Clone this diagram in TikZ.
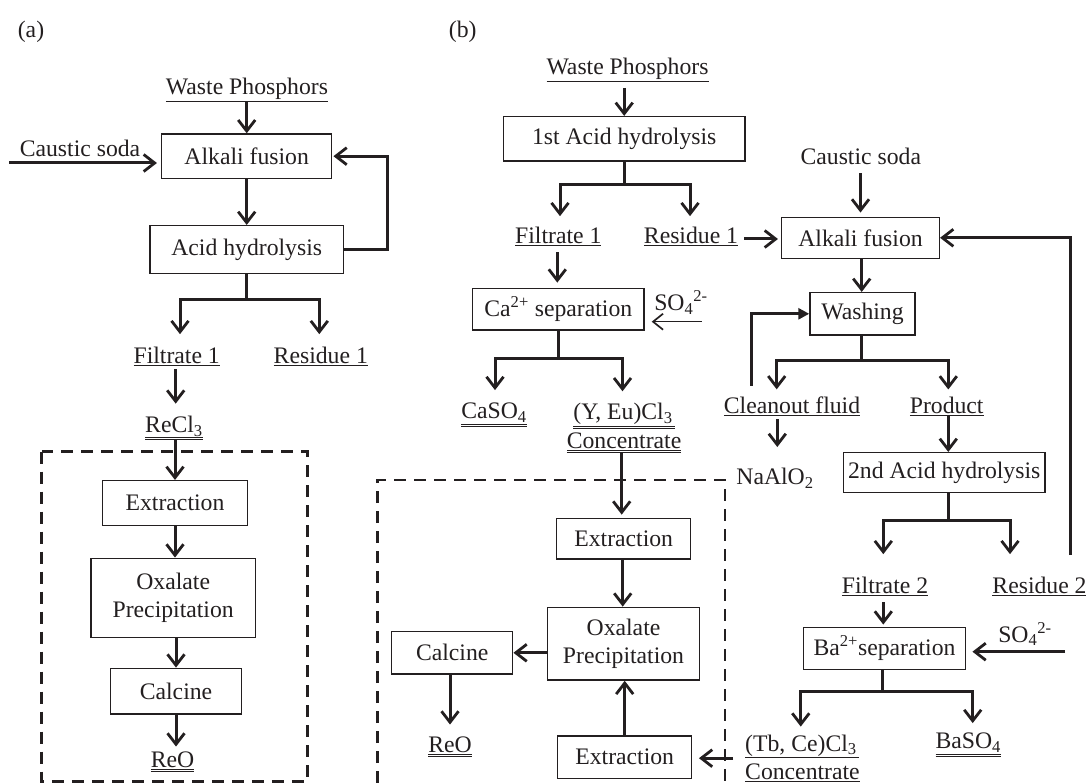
\documentclass[tikz,border=0pt]{standalone}
\usepackage{fontspec}
\setmainfont{Liberation Serif}
\usetikzlibrary{arrows.meta}
\definecolor{ink}{HTML}{231F20}
\newcommand{\ulA}[1]{$\underline{\hbox{#1}}$}
\newcommand{\ulB}[1]{$\underline{\underline{\hbox{#1}}}$}
\begin{document}
\begin{tikzpicture}[x=1pt,y=-1pt,
  every node/.style={text=ink, font=\fontsize{23.7}{28.4}\selectfont},
  box/.style={draw=ink, line width=1.5pt, inner sep=0, align=center},
  lbl/.style={inner sep=0, align=center},
  con/.style={draw=ink, line width=3pt},
  arr/.style={con, -{Straight Barb[length=11pt,width=17pt,line width=2.8pt]}},
  tarr/.style={draw=ink, line width=1.4pt, -{Straight Barb[length=10pt,width=16pt,line width=1.7pt]}},
  farr/.style={con, -{Triangle[length=11pt,width=11pt]}},
  dbox/.style={draw=ink, line width=2.8pt, dash pattern=on 12pt off 8pt}]
\useasboundingbox (0,0) rectangle (1086,783);
% ---------------- (a) ----------------
\node[lbl] (la) at (31,32) {(a)};
\node[lbl] (wpA) at (247,90) {\ulA{Waste Phosphors}};
\node[box, minimum width=170, minimum height=44.3] (afA) at (246.7,156.2) {Alkali fusion};
\node[lbl] (csA) at (80,148) {Caustic soda};
\node[box, minimum width=193.3, minimum height=47.6] (ahA) at (246.7,249.5) {Acid hydrolysis};
\node[lbl] (f1A) at (176.7,356.7) {\ulA{Filtrate 1}};
\node[lbl] (r1A) at (320.8,356.7) {\ulA{Residue 1}};
\node[lbl] (reA) at (174,428) {\ulB{ReCl\textsubscript{3}}};
\node[box, minimum width=144.6, minimum height=44.6] (exA) at (175,503) {Extraction};
\node[box, minimum width=164.3, minimum height=79] (oxA) at (173.2,597.8) {Oxalate\\Precipitation};
\node[box, minimum width=130.6, minimum height=45.7] (caA) at (176,691.2) {Calcine};
\node[lbl] (reoA) at (172.5,761.7) {\ulB{ReO}};
\draw[dbox] (41.7,451.7) rectangle (307.3,781.5);

\draw[arr] (afA.north |- wpA.south) -- (afA.north);
\coordinate (csAs) at (9,163);
\draw[arr, shorten >=4pt] (csAs) -- (csAs -| afA.west);
\draw[arr] (afA.south) -- (ahA.north);
\draw[arr, shorten >=1pt] (ahA.east) -- ++(43,0) |- (afA.east);
\draw[con] (ahA.south) -- ++(0,25) coordinate (sA);
\draw[arr, shorten >=13pt] (sA) -| ([xshift=3.3pt]f1A.north);
\draw[arr, shorten >=13pt] (sA) -| ([xshift=-1.5pt]r1A.north);
\draw[arr, shorten <=3pt, shorten >=12pt] ([xshift=-1pt]f1A.south) -- ([xshift=-1pt]f1A.south |- reA.north);
\draw[arr] (exA.north |- reA.south) -- (exA.north);
\draw[arr] (exA.south) -- (exA.south |- oxA.north);
\draw[arr] (caA.north |- oxA.south) -- (caA.north);
\draw[arr, shorten >=5pt] (caA.south) -- (caA.south |- reoA.north);

% ---------------- (b) ----------------
\node[lbl] (lb) at (462.7,32) {(b)};
\node[lbl] (wpB) at (627.5,70) {\ulA{Waste Phosphors}};
\node[box, minimum width=241.7, minimum height=44.3] (ah1B) at (624.2,138.8) {1st Acid hydrolysis};
\node[lbl] (f1B) at (558.3,236.7) {\ulA{Filtrate 1}};
\node[lbl] (r1B) at (691,236.7) {\ulA{Residue 1}};
\node[box, minimum width=171.3, minimum height=41.7] (caB) at (558.3,309.2) {Ca\textsuperscript{2+} separation};
\node[lbl] (so1) at (681,302.5) {SO\textsubscript{4}\textsuperscript{2-}};
\node[lbl] (caso) at (494,415) {\ulB{CaSO\textsubscript{4}}};
\node[lbl] (yeB) at (624,428) {\ulB{(Y, Eu)Cl\textsubscript{3}\kern2pt}\\\ulB{Concentrate}};
\node[box, minimum width=157.6, minimum height=41] (afB) at (860.5,237.8) {Alkali fusion};
\node[lbl] (csB) at (860.8,156.7) {Caustic soda};
\node[box, minimum width=105, minimum height=42.3] (waB) at (862.5,313.8) {Washing};
\node[lbl] (cfB) at (792,406) {\ulA{Cleanout fluid}};
\node[lbl] (prB) at (946.7,406) {\ulA{Product}};
\node[lbl] (naB) at (775,478.3) {NaAlO\textsubscript{2}};
\node[box, minimum width=201.7, minimum height=40] (ah2B) at (944.2,472.7) {2nd Acid hydrolysis};
\node[lbl] (f2B) at (885,586.7) {\ulA{Filtrate 2}};
\node[lbl] (r2B) at (1039.5,586.7) {\ulA{Residue 2}};
\node[box, minimum width=162.4, minimum height=42] (baB) at (884.5,648.3) {Ba\textsuperscript{2+}separation};
\node[lbl] (so2) at (1025,634) {SO\textsubscript{4}\textsuperscript{2-}};
\node[lbl, align=left, anchor=west] (tcB) at (745,758.3) {\ulA{(Tb, Ce)Cl\textsubscript{3}\kern2pt}\\\ulA{Concentrate}};
\node[lbl] (baso) at (968.3,745) {\ulB{BaSO\textsubscript{4}}};
\node[box, minimum width=134, minimum height=40.7] (exB1) at (623.7,538.7) {Extraction};
\node[box, minimum width=151.6, minimum height=72.7] (oxB) at (623.5,643.7) {Oxalate\\Precipitation};
\node[box, minimum width=121, minimum height=42.3] (calB) at (452.2,652.8) {Calcine};
\node[lbl] (reoB) at (450,746.7) {\ulB{ReO}};
\node[box, minimum width=134, minimum height=42.3] (exB2) at (624.7,757.2) {Extraction};
\draw[dbox] (377.3,783) -- (377.3,480) -- (725,480) -- (725,783);

\draw[arr, shorten <=6pt] (ah1B.north |- wpB.south) -- (ah1B.north);
\draw[con] (ah1B.south) -- ++(0,22.5) coordinate (sB1);
\draw[arr, shorten >=11pt] (sB1) -| ([xshift=1.7pt]f1B.north);
\draw[arr, shorten >=11pt] (sB1) -| ([xshift=-1pt]r1B.north);
\draw[arr, shorten <=6pt, shorten >=3pt] ([yshift=-2.3pt]r1B.east) -- ([yshift=-2.3pt]r1B.east -| afB.west);
\draw[arr, shorten <=6pt, shorten >=5pt] ([xshift=-1pt]f1B.south) -- ([xshift=-1pt]f1B.south |- caB.north);
\coordinate (so1s) at (701.7,321.7);
\draw[tarr, shorten >=7pt] (so1s) -- (so1s -| caB.east);
\draw[con] (caB.south) -- ++(0,28) coordinate (sB2);
\draw[arr, shorten >=13pt] (sB2) -| ([xshift=1pt]caso.north);
\draw[arr, shorten >=12pt] (sB2) -| ([xshift=-1.5pt]yeB.north);
\draw[arr, shorten >=3pt] ([xshift=-2pt]exB1.north |- yeB.south) -- ([xshift=-2pt]exB1.north);
\draw[arr] ([xshift=-1pt]exB1.south) -- ([xshift=-1pt]exB1.south |- oxB.north);
\draw[arr] (calB.east -| oxB.west) -- (calB.east);
\draw[arr, shorten >=12pt] ([xshift=-2.2pt]calB.south) -- ([xshift=-2.2pt]calB.south |- reoB.north);
\draw[arr] (exB2.north) -- (exB2.north |- oxB.south);
\draw[arr, shorten <=12pt, shorten >=6.5pt] ([yshift=-1pt]tcB.west |- exB2.east) -- ([yshift=-1pt]exB2.east);
\draw[arr, shorten <=8pt, shorten >=4pt] (afB.north |- csB.south) -- (afB.north);
\draw[arr] ([xshift=1.2pt]afB.south) -- ([xshift=1.2pt]afB.south |- waB.north);
\coordinate (r2t) at (1070,555);
\draw[arr] (r2t) |- (afB.east);
\draw[con] ([xshift=-0.8pt]waB.south) -- ++(0,24.3) coordinate (sB3);
\draw[arr, shorten >=7pt] (sB3) -| ([xshift=-15.3pt]cfB.north);
\draw[arr, shorten >=7pt] (sB3) -| ([xshift=1.6pt]prB.north);
\draw[farr, shorten <=10.5pt] ([xshift=-40.3pt]cfB.north) |- (waB.west);
\draw[arr, shorten <=3.5pt, shorten >=21pt] ([xshift=-14.7pt]cfB.south) -- ([xshift=-14.7pt]cfB.south |- naB.north);
\draw[arr] ([xshift=1.6pt]prB.south) -- ([xshift=1.6pt]prB.south |- ah2B.north);
\draw[con] ([xshift=4.1pt]ah2B.south) -- ++(0,27.3) coordinate (sB4);
\draw[arr, shorten >=23pt] (sB4) -| ([xshift=-1.7pt]f2B.north);
\draw[arr, shorten >=23pt] (sB4) -| ([xshift=-29.5pt]r2B.north);
\draw[arr, shorten <=6pt, shorten >=2pt] ([xshift=-1.7pt]f2B.south) -- ([xshift=-1.7pt]f2B.south |- baB.north);
\coordinate (so2s) at (1065,651.7);
\draw[arr, shorten >=6pt] (so2s) -- (so2s -| baB.east);
\draw[con] ([xshift=-1.8pt]baB.south) -- ++(0,21) coordinate (sB5);
\draw[arr, shorten >=8pt] (sB5) -| ([xshift=-1.7pt]tcB.north);
\draw[arr, shorten >=10pt] (sB5) -| ([xshift=4.4pt]baso.north);
\end{tikzpicture}
\end{document}
